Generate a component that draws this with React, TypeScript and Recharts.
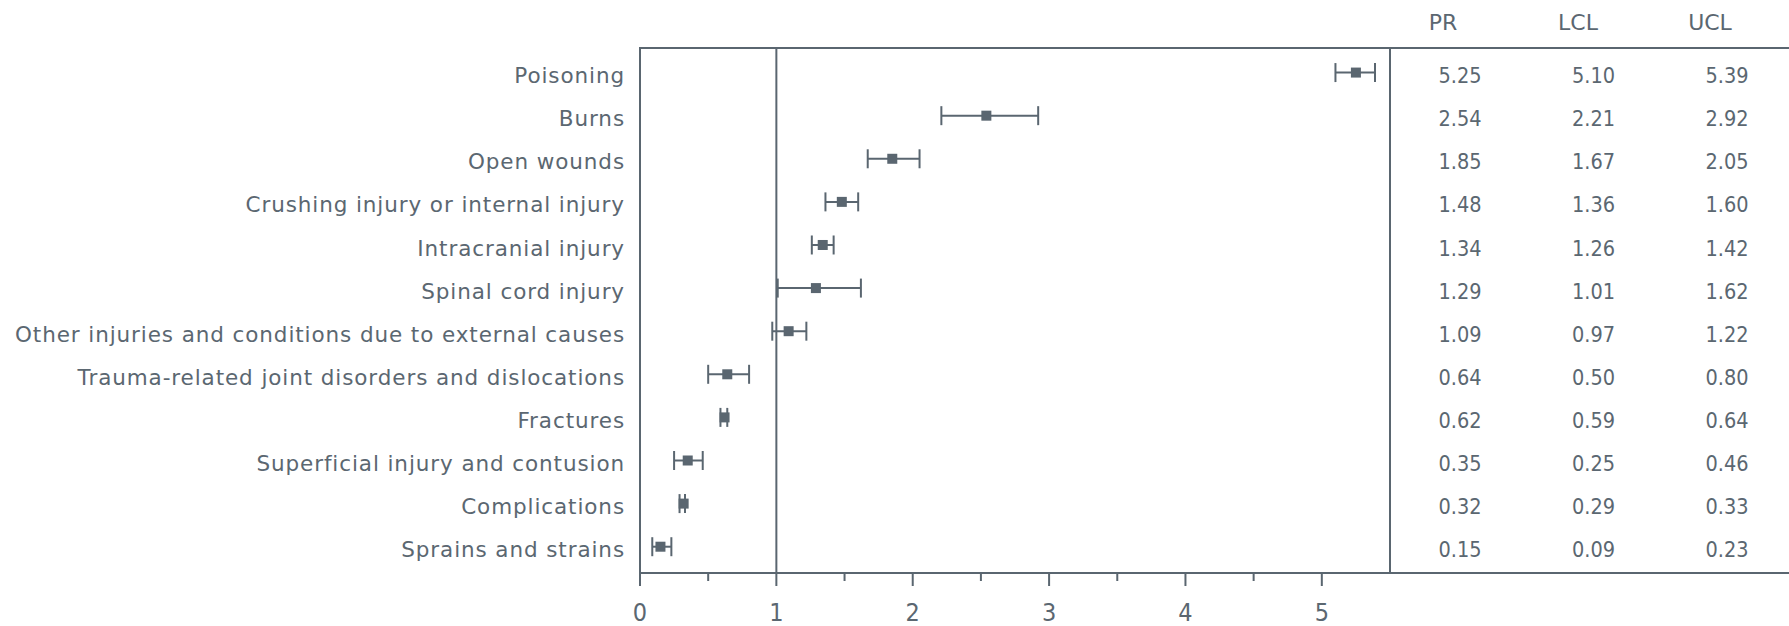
import React from 'react';
import {
  ComposedChart, Scatter, XAxis, YAxis, ErrorBar, ReferenceLine,
  useOffset, useChartWidth, useChartHeight,
} from 'recharts';

const categories = [
  'Poisoning',
  'Burns',
  'Open wounds',
  'Crushing injury or internal injury',
  'Intracranial injury',
  'Spinal cord injury',
  'Other injuries and conditions due to external causes',
  'Trauma-related joint disorders and dislocations',
  'Fractures',
  'Superficial injury and contusion',
  'Complications',
  'Sprains and strains',
];
const prValues = [5.25, 2.54, 1.85, 1.48, 1.34, 1.29, 1.09, 0.64, 0.62, 0.35, 0.32, 0.15];
const lclValues = [5.10, 2.21, 1.67, 1.36, 1.26, 1.01, 0.97, 0.50, 0.59, 0.25, 0.29, 0.09];
const uclValues = [5.39, 2.92, 2.05, 1.60, 1.42, 1.62, 1.22, 0.80, 0.64, 0.46, 0.33, 0.23];
const tableHeaders = ['PR', 'LCL', 'UCL'];
const xTicks = [0, 0.5, 1, 1.5, 2, 2.5, 3, 3.5, 4, 4.5, 5];

const rows = categories.map((name, i) => ({
  idx: i + 1,
  name,
  pr: prValues[i],
  err: [+(prValues[i] - lclValues[i]).toFixed(2), +(uclValues[i] - prValues[i]).toFixed(2)],
}));
const rowTicks = rows.map((r) => r.idx);

const LINE = '#5a6670';
const TEXT = '#5b6771';
const LABEL_FONT = '"DejaVu Sans", Verdana, sans-serif';
const NUM_FONT = '"DejaVu Sans Condensed", "Liberation Sans", Arial, sans-serif';

const headerOffsets = [53, 188, 320];
const valueOffsets = [70, 203.5, 337];

const LeftTick = (props: any) => {
  const { x, y, payload } = props;
  return (
    <text x={x} y={y} dy={10.6} textAnchor="end" fill={TEXT} fontFamily={LABEL_FONT}
      fontSize={21.5} style={{ letterSpacing: '0.9px' }}>
      {categories[payload.value - 1]}
    </text>
  );
};

const RightTick = (props: any) => {
  const { x, y, payload } = props;
  const i = payload.value - 1;
  const cols = [prValues, lclValues, uclValues];
  return (
    <g>
      {cols.map((arr, k) => (
        <text key={k} x={x + valueOffsets[k]} y={y} dy={10.6} textAnchor="middle" fill={TEXT}
          fontFamily={NUM_FONT} fontSize={21.5}>
          {arr[i].toFixed(2)}
        </text>
      ))}
    </g>
  );
};

const XTick = (props: any) => {
  const { x, y, payload } = props;
  const v = payload.value;
  const major = Number.isInteger(v);
  return (
    <g>
      <line x1={x} x2={x} y1={y} y2={y + (major ? 13 : 8)} stroke={LINE} strokeWidth={2} />
      {major && (
        <text x={x} y={y + 48} textAnchor="middle" fill={TEXT} fontFamily={NUM_FONT} fontSize={25}>
          {v}
        </text>
      )}
    </g>
  );
};

const SquareShape = (props: any) => {
  const { cx, cy } = props;
  if (cx == null || cy == null) return null;
  return <rect x={cx - 5} y={cy - 5} width={10} height={10} fill={LINE} />;
};

const Frame = () => {
  const off: any = useOffset();
  const w: any = useChartWidth();
  const h: any = useChartHeight();
  if (!off || !w || !h) return null;
  const left = off.left;
  const right = w - off.right;
  const top = off.top;
  const bottom = h - off.bottom;
  return (
    <g>
      <line x1={left - 1} x2={w} y1={top} y2={top} stroke={LINE} strokeWidth={2} />
      <line x1={right} x2={w} y1={bottom} y2={bottom} stroke={LINE} strokeWidth={2} />
      {tableHeaders.map((t, k) => (
        <text key={t} x={right + headerOffsets[k]} y={top - 18} textAnchor="middle" fill={TEXT}
          fontFamily={LABEL_FONT} fontSize={22}>
          {t}
        </text>
      ))}
    </g>
  );
};

export default function App() {
  return (
    <div style={{ position: 'absolute', left: 0, top: 0, background: '#fff' }}>
      <ComposedChart width={1789} height={626} data={rows}
        margin={{ top: 48, right: 0, bottom: 0, left: 0 }}>
        <XAxis type="number" dataKey="pr" domain={[0, 5.5]} ticks={xTicks} interval={0}
          allowDataOverflow height={53} axisLine={{ stroke: LINE, strokeWidth: 2 }}
          tickLine={false} tickSize={0} tickMargin={0} tick={<XTick />} />
        <YAxis yAxisId="left" type="number" dataKey="idx" domain={[0.43, 12.61]} reversed
          ticks={rowTicks} interval={0} width={640} allowDataOverflow
          axisLine={{ stroke: LINE, strokeWidth: 2 }} tickLine={false} tickSize={0} tickMargin={15}
          tick={<LeftTick />} />
        <YAxis yAxisId="right" orientation="right" type="number" dataKey="idx" domain={[0.43, 12.61]}
          reversed ticks={rowTicks} interval={0} width={399} allowDataOverflow
          axisLine={{ stroke: LINE, strokeWidth: 2 }} tickLine={false} tickSize={0} tickMargin={0}
          tick={<RightTick />} />
        <ReferenceLine yAxisId="left" x={1} stroke={LINE} strokeWidth={2} />
        <Scatter yAxisId="left" data={rows} dataKey="pr" isAnimationActive={false}
          shape={<SquareShape />} fill={LINE}>
          <ErrorBar dataKey="err" direction="x" width={9.5} stroke={LINE} strokeWidth={2} />
        </Scatter>
        <Frame />
      </ComposedChart>
    </div>
  );
}
